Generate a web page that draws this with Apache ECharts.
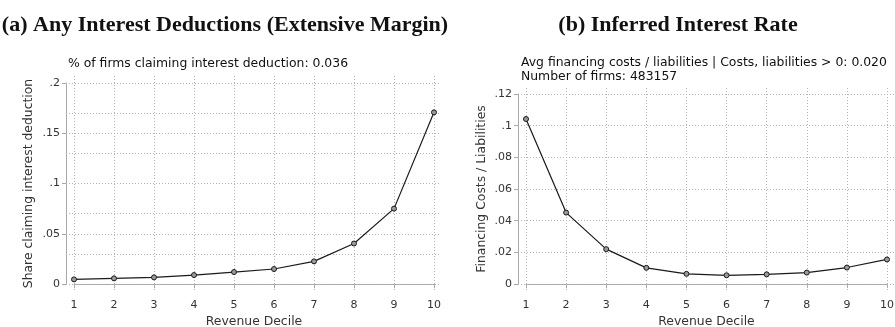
<!DOCTYPE html>
<html>
<head>
<meta charset="utf-8">
<script src="https://cdn.jsdelivr.net/npm/echarts@6/dist/echarts.min.js"></script>
<style>
html,body{margin:0;padding:0;background:#fff;}
#chart{width:895px;height:327px;}
</style>
</head>
<body>
<div id="chart"></div>
<script>
// ---- data ----
const deciles = [1, 2, 3, 4, 5, 6, 7, 8, 9, 10];
const shareClaiming = [0.0046, 0.0056, 0.0066, 0.0089, 0.0119, 0.0149, 0.0225, 0.0403, 0.0750, 0.1708];
const financingRate = [0.1042, 0.0451, 0.0220, 0.0102, 0.0064, 0.0055, 0.0061, 0.0072, 0.0104, 0.0155];
const leftYMax = 0.2, leftYInterval = 0.05;
const leftGridValues = [0, 0.025, 0.05, 0.075, 0.1, 0.125, 0.15, 0.175, 0.2];
const rightYMax = 0.12, rightYInterval = 0.02;
const rightGridValues = [0, 0.02, 0.04, 0.06, 0.08, 0.1, 0.12];
const titleA = '(a) Any Interest Deductions (Extensive Margin)';
const titleB = '(b) Inferred Interest Rate';
const subA = ['% of firms claiming interest deduction: 0.036'];
const subB = ['Avg financing costs / liabilities | Costs, liabilities > 0: 0.020', 'Number of firms: 483157'];
const xName = 'Revenue Decile';
const yNameA = 'Share claiming interest deduction';
const yNameB = 'Financing Costs / Liabilities';

// ---- styling / layout ----
const FONT = 'DejaVu Sans';
const TXT = '#333';
const AXC = '#a8a8a8';
const GRIDC = '#b4b4b4';

function fmt(v) {
  if (v === 0) return '0';
  return String(+v.toFixed(4)).replace(/^0\./, '.');
}

const panels = [
  {inner: {left: 74, top: 83, width: 360, height: 201}, ext: {l: 8, r: 6, t: 8, b: 6},
   yMax: leftYMax, yInt: leftYInterval, grid: leftGridValues, vals: shareClaiming,
   yName: yNameA, yNameSize: 12.4, yNameGap: 31.5},
  {inner: {left: 526, top: 94, width: 361, height: 190}, ext: {l: 8, r: 7, t: 7, b: 6},
   yMax: rightYMax, yInt: rightYInterval, grid: rightGridValues, vals: financingRate,
   yName: yNameB, yNameSize: 12.4, yNameGap: 30}
];

const grids = [], xAxes = [], yAxes = [], series = [];
panels.forEach((p, i) => {
  const I = p.inner, E = p.ext;
  const xMin = deciles[0], xMax = deciles[deciles.length - 1];
  const pxX = I.width / (xMax - xMin);
  const pxY = I.height / p.yMax;
  // outer grid (plot region, gridlines)
  grids.push({left: I.left - E.l, top: I.top - E.t, width: I.width + E.l + E.r, height: I.height + E.t + E.b,
              outerBoundsMode: 'none', containLabel: false});
  xAxes.push({type: 'value', gridIndex: 2 * i, show: false, min: xMin - E.l / pxX, max: xMax + E.r / pxX});
  yAxes.push({type: 'value', gridIndex: 2 * i, show: false, min: -E.b / pxY, max: p.yMax + E.t / pxY});
  series.push({
    type: 'line', xAxisIndex: 2 * i, yAxisIndex: 2 * i, data: [], silent: true,
    markLine: {
      silent: true, symbol: ['none', 'none'], label: {show: false}, animation: false,
      lineStyle: {type: [1, 2], color: GRIDC, width: 1},
      emphasis: {disabled: true},
      data: deciles.map(d => ({xAxis: d})).concat(p.grid.map(v => ({yAxis: v})))
    }
  });
  // inner grid (data, axes)
  grids.push({left: I.left, top: I.top, width: I.width, height: I.height,
              outerBoundsMode: 'none', containLabel: false});
  xAxes.push({
    type: 'value', gridIndex: 2 * i + 1, min: xMin, max: xMax, interval: 1, offset: 8,
    axisLine: {show: true, lineStyle: {color: AXC, width: 1}},
    axisTick: {show: true, length: 4, lineStyle: {color: AXC}},
    axisLabel: {margin: 8, fontFamily: FONT, fontSize: 11, color: TXT},
    splitLine: {show: false},
    name: xName, nameLocation: 'middle', nameGap: 22,
    nameTextStyle: {fontFamily: FONT, fontSize: 12.4, color: TXT}
  });
  yAxes.push({
    type: 'value', gridIndex: 2 * i + 1, min: 0, max: p.yMax, interval: p.yInt, offset: 8,
    axisLine: {show: true, lineStyle: {color: AXC, width: 1}},
    axisTick: {show: true, length: 4, lineStyle: {color: AXC}},
    axisLabel: {margin: 6, fontFamily: FONT, fontSize: 11, color: TXT, formatter: fmt},
    splitLine: {show: false},
    name: p.yName, nameLocation: 'middle', nameGap: p.yNameGap, nameRotate: 90,
    nameTextStyle: {fontFamily: FONT, fontSize: p.yNameSize, color: TXT}
  });
  series.push({
    type: 'line', xAxisIndex: 2 * i + 1, yAxisIndex: 2 * i + 1,
    data: deciles.map((d, k) => [d, p.vals[k]]),
    symbol: 'circle', symbolSize: 5, showSymbol: true,
    lineStyle: {color: '#1a1a1a', width: 1.2},
    itemStyle: {color: '#9a9a9a', borderColor: '#1a1a1a', borderWidth: 1},
    z: 5
  });
});

function txt(x, y, text, font, align) {
  return {type: 'text', x: x, y: y, silent: true,
    style: {text: text, font: font, fill: '#111', align: align, textAlign: align,
            verticalAlign: 'middle', textVerticalAlign: 'middle'}};
}
const graphics = [
  txt(225, 25, titleA, 'bold 22px "Liberation Serif"', 'center'),
  txt(678, 25, titleB, 'bold 22px "Liberation Serif"', 'center')
];
subA.forEach((s, k) => graphics.push(txt(68, 64 + 14 * k, s, '12.4px "DejaVu Sans"', 'left')));
subB.forEach((s, k) => graphics.push(txt(521, 63 + 14 * k, s, '12.4px "DejaVu Sans"', 'left')));

const chart = echarts.init(document.getElementById('chart'), null, {renderer: 'canvas'});
chart.setOption({
  animation: false,
  backgroundColor: '#fff',
  grid: grids, xAxis: xAxes, yAxis: yAxes, series: series,
  graphic: graphics
});
</script>
</body>
</html>
